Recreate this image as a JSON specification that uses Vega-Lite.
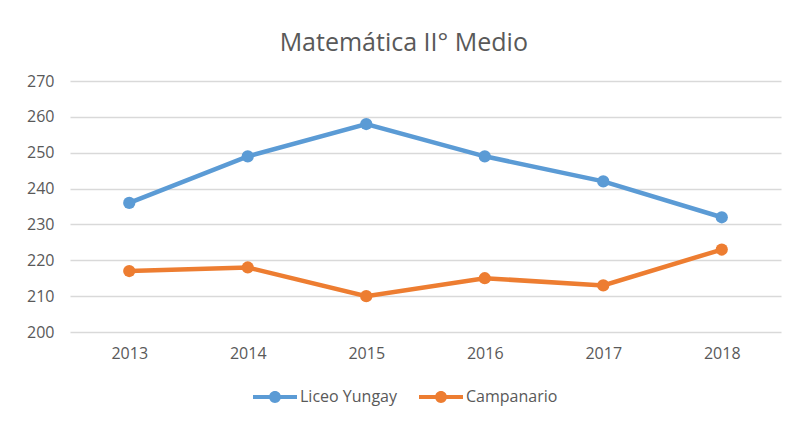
{
  "$schema": "https://vega.github.io/schema/vega-lite/v6.json",
  "autosize": "none",
  "width": 711,
  "height": 251,
  "padding": {"left": 70, "top": 81, "right": 11, "bottom": 89},
  "background": "white",
  "config": {
    "view": {"stroke": null},
    "font": "Open Sans"
  },
  "title": {
    "text": "Matemática II° Medio",
    "anchor": "middle",
    "frame": "bounds",
    "fontSize": 25,
    "fontWeight": "normal",
    "color": "#595959",
    "offset": 17
  },
  "data": {
    "values": [
      {"year": "2013", "series": "Liceo Yungay", "score": 236},
      {"year": "2014", "series": "Liceo Yungay", "score": 249},
      {"year": "2015", "series": "Liceo Yungay", "score": 258},
      {"year": "2016", "series": "Liceo Yungay", "score": 249},
      {"year": "2017", "series": "Liceo Yungay", "score": 242},
      {"year": "2018", "series": "Liceo Yungay", "score": 232},
      {"year": "2013", "series": "Campanario", "score": 217},
      {"year": "2014", "series": "Campanario", "score": 218},
      {"year": "2015", "series": "Campanario", "score": 210},
      {"year": "2016", "series": "Campanario", "score": 215},
      {"year": "2017", "series": "Campanario", "score": 213},
      {"year": "2018", "series": "Campanario", "score": 223}
    ]
  },
  "encoding": {
    "x": {
      "field": "year",
      "type": "ordinal",
      "scale": {"paddingInner": 0, "paddingOuter": 0.5},
      "axis": {
        "title": null,
        "labelAngle": 0,
        "labelFontSize": 16,
        "labelColor": "#595959",
        "labelPadding": 13,
        "domain": false,
        "ticks": false,
        "grid": false
      }
    },
    "y": {
      "field": "score",
      "type": "quantitative",
      "scale": {"domain": [200, 270], "nice": false, "zero": false},
      "axis": {
        "title": null,
        "values": [200, 210, 220, 230, 240, 250, 260, 270],
        "labelFontSize": 16,
        "labelColor": "#595959",
        "labelPadding": 16,
        "domain": false,
        "ticks": false,
        "grid": true,
        "gridColor": "#d9d9d9",
        "gridWidth": 1.5
      }
    },
    "color": {
      "field": "series",
      "type": "nominal",
      "sort": ["Liceo Yungay", "Campanario"],
      "scale": {"domain": ["Liceo Yungay", "Campanario"], "range": ["#5b9bd5", "#ed7d31"]},
      "legend": {
        "title": null,
        "orient": "none",
        "legendX": 183,
        "legendY": 294,
        "direction": "horizontal",
        "symbolType": "M-1,-0.09L1,-0.09L1,0.09L-1,0.09Z M0.27,0A0.27,0.27 0 1,1 -0.27,0A0.27,0.27 0 1,1 0.27,0Z",
        "symbolSize": 1936,
        "symbolStrokeWidth": 0,
        "labelFontSize": 16,
        "labelColor": "#595959",
        "labelOffset": 3,
        "columnPadding": 22
      }
    }
  },
  "layer": [
    {"mark": {"type": "line", "strokeWidth": 4.5}},
    {"mark": {"type": "point", "filled": true, "opacity": 1, "size": 150}}
  ]
}
